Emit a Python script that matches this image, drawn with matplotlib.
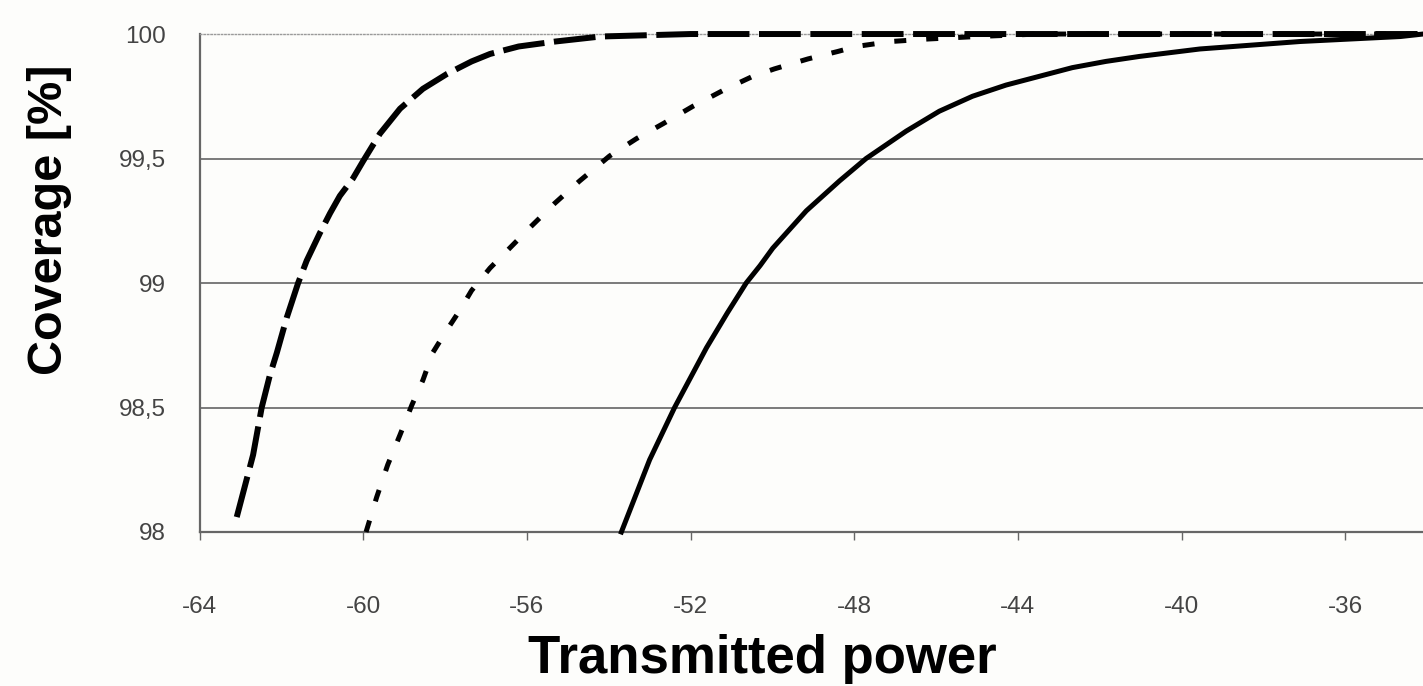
import matplotlib.pyplot as plt

# coverage curves
dashed_x = [-63.09, -62.69, -62.48, -62.28, -62.11, -61.87, -61.59, -61.38, -61.06, -60.81,
            -60.57, -60.25, -60.0, -59.59, -59.1, -58.54, -57.95, -57.35, -56.9, -56.2,
            -55.3, -54.2, -52.0, -48.0, -44.0, -40.0, -36.0, -34.1]
dashed_y = [98.06, 98.31, 98.50, 98.63, 98.72, 98.86, 99.0, 99.09, 99.20, 99.28,
            99.35, 99.42, 99.49, 99.60, 99.70, 99.78, 99.84, 99.89, 99.92, 99.95,
            99.97, 99.99, 100.0, 100.0, 100.0, 100.0, 100.0, 100.0]

dotted_x = [-59.93, -59.67, -59.40, -59.10, -58.81, -58.54, -58.3, -57.96, -57.64, -57.35,
            -56.9, -56.42, -55.88, -55.32, -54.71, -53.98, -53.32, -52.67, -51.94, -51.13,
            -50.48, -49.95, -49.13, -48.4, -47.95, -47.1, -46.2, -45.0, -43.5, -40.0,
            -36.0, -34.1]
dotted_y = [98.0, 98.14, 98.27, 98.39, 98.51, 98.61, 98.72, 98.81, 98.89, 98.97,
            99.06, 99.14, 99.23, 99.32, 99.41, 99.51, 99.58, 99.64, 99.71, 99.78,
            99.83, 99.86, 99.90, 99.93, 99.95, 99.97, 99.98, 99.99, 100.0, 100.0,
            100.0, 100.0]

solid_x = [-53.69, -53.0, -52.39, -52.0, -51.61, -51.1, -50.64, -50.3, -49.99, -49.17,
           -48.36, -47.71, -46.73, -45.92, -45.11, -44.29, -43.48, -42.67, -41.85, -41.03,
           -39.55, -37.1, -34.65, -34.1]
solid_y = [98.0, 98.29, 98.5, 98.62, 98.74, 98.88, 99.0, 99.07, 99.14, 99.29,
           99.41, 99.5, 99.61, 99.69, 99.75, 99.795, 99.83, 99.865, 99.89, 99.91,
           99.94, 99.97, 99.99, 100.0]

x_ticks = [-64, -60, -56, -52, -48, -44, -40, -36]
y_ticks = [98, 98.5, 99, 99.5, 100]
y_tick_labels = ["98", "98,5", "99", "99,5", "100"]

plt.rcParams["font.family"] = ["Liberation Sans", "DejaVu Sans"]
plt.rcParams["axes.unicode_minus"] = False

fig = plt.figure(figsize=(14.23, 6.86), dpi=100, facecolor="#fdfdfb")
ax = fig.add_axes([0.1402, 0.2245, 0.8598, 0.7259])
ax.set_facecolor("#fdfdfb")

for y in y_ticks[1:-1]:
    ax.axhline(y, color="#7a7a7a", lw=1.4, zorder=1)

ax.plot(dashed_x, dashed_y, color="black", lw=4.3, dashes=(7, 1.6),
        solid_capstyle="butt", clip_on=False, zorder=3)
ax.plot(dotted_x, dotted_y, color="black", lw=3.6, dashes=(2.4, 4.0),
        clip_on=False, zorder=3)
ax.plot(solid_x, solid_y, color="black", lw=3.6, clip_on=False, zorder=3)

ax.set_xlim(-64, -34.1)
ax.set_ylim(98, 100)
ax.set_xticks(x_ticks)
ax.set_yticks(y_ticks)
ax.set_yticklabels(y_tick_labels)
ax.tick_params(axis="x", direction="out", length=6, width=1, color="#666666",
               labelsize=17.5, labelcolor="#444444", pad=40)
ax.tick_params(axis="y", length=0, labelsize=17.5, labelcolor="#444444", pad=24)

ax.spines["right"].set_visible(False)
ax.spines["top"].set_linestyle((0, (1, 1.5)))
ax.spines["top"].set_color("#9a9a9a")
ax.spines["top"].set_linewidth(1.0)
for side in ("left", "bottom"):
    ax.spines[side].set_color("#666666")
    ax.spines[side].set_linewidth(1.6)

fig.text(50 / 1423, 1 - 220 / 686, "Coverage [%]", rotation=90, ha="center",
         va="center", fontsize=35, fontweight="bold")
fig.text(762 / 1423, 1 - 673 / 686, "Transmitted power", ha="center",
         va="baseline", fontsize=38, fontweight="bold")

fig.savefig("out.png", dpi=100, facecolor=fig.get_facecolor())
